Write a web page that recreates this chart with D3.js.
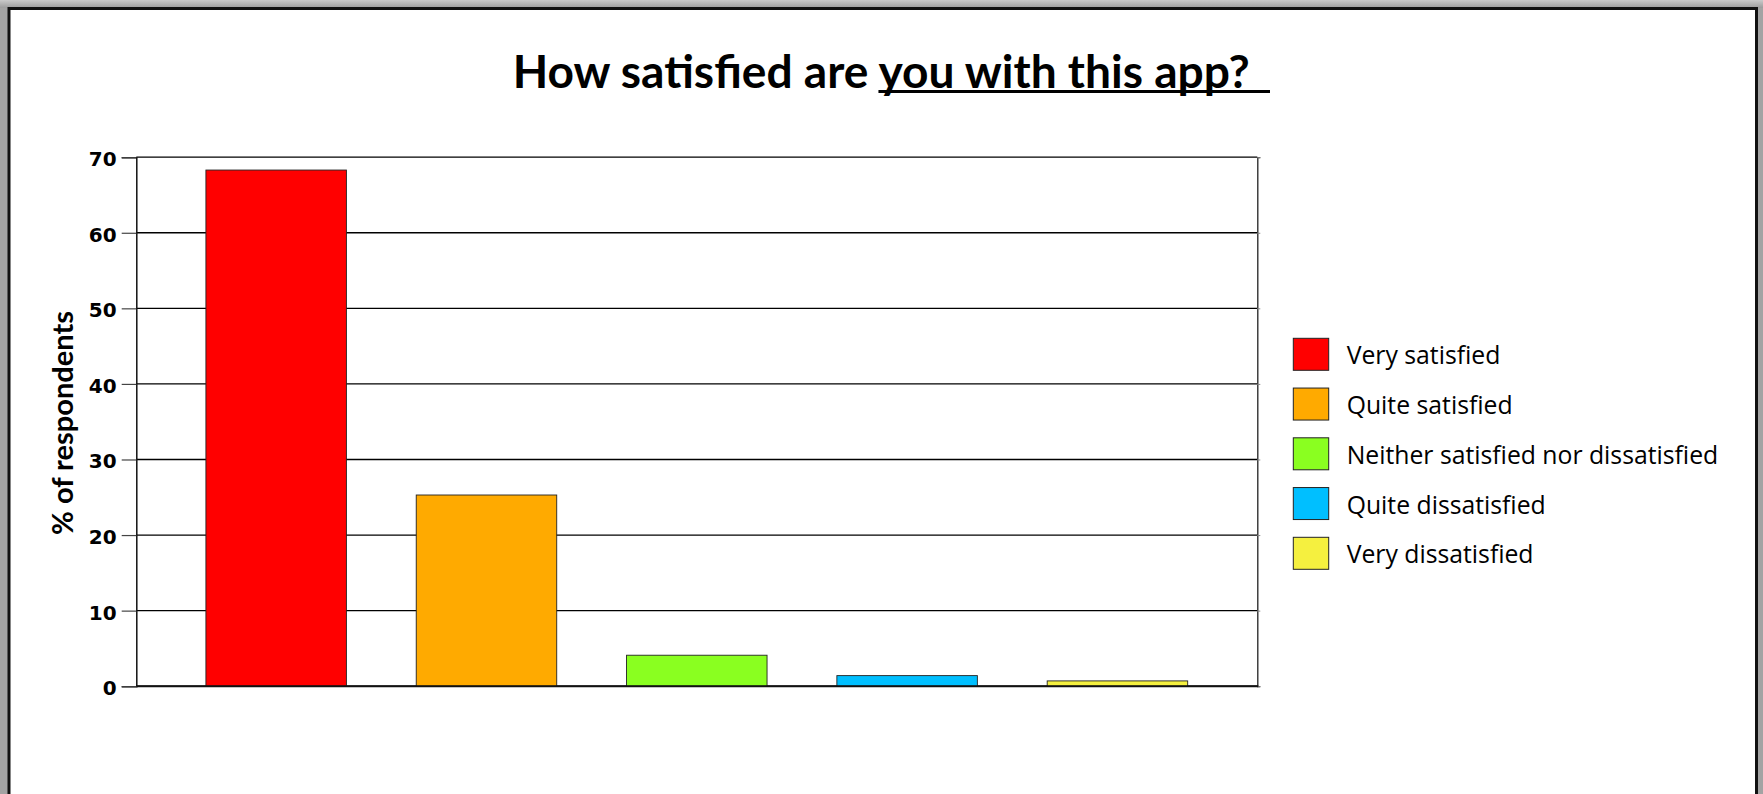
<!DOCTYPE html>
<html>
<head>
<meta charset="utf-8">
<script src="https://cdn.jsdelivr.net/npm/d3@7"></script>
<style>
  html, body { margin: 0; padding: 0; background: #a3a3a3; }
  svg { display: block; }
</style>
</head>
<body>
<svg id="chart" width="1763" height="794"></svg>
<script>
// Survey answers and their share of respondents (%)
const categories = [
  "Very satisfied",
  "Quite satisfied",
  "Neither satisfied nor dissatisfied",
  "Quite dissatisfied",
  "Very dissatisfied"
];
const values = [68.3, 25.3, 4.1, 1.4, 0.7];
const barColors = ["#ff0000", "#ffaa00", "#8aff20", "#00bfff", "#f5f03f"];
const yTicks = [0, 10, 20, 30, 40, 50, 60, 70];
const titleLead = "How satisfied are ";
const titleEmph = "you with this app?";
const yTitle = "% of respondents";

const W = 1763, H = 794;
const svg = d3.select("#chart");

// Window frame: grey surround with a lighter band on top, white page with dark edge
const defs = svg.append("defs");
const grad = defs.append("linearGradient").attr("id", "topband")
  .attr("x1", 0).attr("y1", 0).attr("x2", 0).attr("y2", 1);
grad.append("stop").attr("offset", "0%").attr("stop-color", "#cacaca");
grad.append("stop").attr("offset", "100%").attr("stop-color", "#9c9c9c");
svg.append("rect").attr("width", W).attr("height", H).attr("fill", "#a3a3a3");
svg.append("rect").attr("width", W).attr("height", 8).attr("fill", "url(#topband)");
svg.append("rect")
  .attr("x", 9).attr("y", 8.5).attr("width", 1747.5).attr("height", 900)
  .attr("fill", "#ffffff").attr("stroke", "#111").attr("stroke-width", 3);

// Plot area
const plot = { left: 136.3, right: 1257.3, top: 157.2, bottom: 686.2 };

const x = d3.scaleBand()
  .domain(categories)
  .range([plot.left, plot.right])
  .paddingInner(0.332)
  .paddingOuter(0.331);

const y = d3.scaleLinear()
  .domain([0, 70])
  .range([plot.bottom, plot.top]);

const color = d3.scaleOrdinal().domain(categories).range(barColors);

// Horizontal gridlines
svg.append("g")
  .selectAll("line")
  .data(yTicks)
  .join("line")
  .attr("x1", plot.left).attr("x2", plot.right)
  .attr("y1", d => y(d)).attr("y2", d => y(d))
  .attr("stroke", "#000").attr("stroke-width", 1.3);

// Right edge of the plot with small outward ticks
const rightAxis = svg.append("g")
  .attr("transform", `translate(${plot.right},0)`)
  .call(d3.axisRight(y).tickValues(yTicks).tickSize(3).tickFormat(""));
rightAxis.select(".domain").attr("stroke", "#222").attr("stroke-width", 1.3);
rightAxis.selectAll(".tick line").attr("stroke", "#888");

// Bars
svg.append("g")
  .selectAll("rect")
  .data(categories)
  .join("rect")
  .attr("x", d => x(d))
  .attr("width", x.bandwidth())
  .attr("y", (d, i) => y(values[i]))
  .attr("height", (d, i) => y(0) - y(values[i]))
  .attr("fill", d => color(d))
  .attr("stroke", "#222")
  .attr("stroke-width", 0.9);

// Baseline
svg.append("line")
  .attr("x1", plot.left).attr("x2", plot.right + 1)
  .attr("y1", y(0)).attr("y2", y(0))
  .attr("stroke", "#111").attr("stroke-width", 2);

// Left value axis
const leftAxis = svg.append("g")
  .attr("transform", `translate(${plot.left},0)`)
  .call(d3.axisLeft(y).tickValues(yTicks).tickSize(14.6).tickPadding(5).tickFormat(d3.format("d")));
leftAxis.select(".domain").attr("stroke", "#111").attr("stroke-width", 1.5);
leftAxis.selectAll(".tick line").attr("stroke", "#444").attr("stroke-width", 1.2);
leftAxis.selectAll(".tick text")
  .attr("fill", "#000")
  .attr("dy", "0.42em")
  .style("font-family", "'DejaVu Sans', Verdana, sans-serif")
  .style("font-weight", "bold")
  .style("font-size", "20px");

// Scale a text element's font size so that it spans the given width
function fitWidth(sel, target, startSize) {
  sel.style("font-size", startSize + "px");
  const w = sel.node().getComputedTextLength();
  const size = startSize * target / w;
  sel.style("font-size", size + "px");
  return size;
}

// Title, with the second half underlined
const titleX = 512.7, titleY = 88.3;
const title = svg.append("text")
  .attr("x", titleX).attr("y", titleY)
  .attr("fill", "#000")
  .style("font-family", "Lato, 'Open Sans', sans-serif")
  .style("font-weight", "bold");
const lead = title.append("tspan").text(titleLead);
const emph = title.append("tspan").text(titleEmph);
const tSize = fitWidth(title, 737.3, 40);
const leadW = lead.node().getComputedTextLength();
const totalW = title.node().getComputedTextLength();
svg.append("line")
  .attr("x1", titleX + leadW)
  .attr("x2", 1270)
  .attr("y1", 91.5).attr("y2", 91.5)
  .attr("stroke", "#000").attr("stroke-width", 3.2);

// Value axis title
const yt = svg.append("text")
  .attr("transform", "translate(73.3,423) rotate(-90)")
  .attr("text-anchor", "middle")
  .attr("fill", "#000")
  .style("font-family", "Lato, 'Open Sans', sans-serif")
  .style("font-weight", "bold")
  .text(yTitle);
fitWidth(yt, 224, 26);

// Legend
const legend = svg.append("g").attr("transform", "translate(1293.3,338.3)");
const item = legend.selectAll("g")
  .data(categories)
  .join("g")
  .attr("transform", (d, i) => `translate(0,${i * 49.75})`);
item.append("rect")
  .attr("width", 35.4).attr("height", 32)
  .attr("fill", d => color(d))
  .attr("stroke", "#222").attr("stroke-width", 1);
const labels = item.append("text")
  .attr("x", 53.4).attr("y", 26)
  .attr("fill", "#000")
  .style("font-family", "'Open Sans', sans-serif")
  .text(d => d);
// Size all legend labels from the longest one
const longest = labels.filter((d, i) => i === 2);
const lSize = fitWidth(longest, 371.7, 24);
labels.style("font-size", lSize + "px");
</script>
</body>
</html>
